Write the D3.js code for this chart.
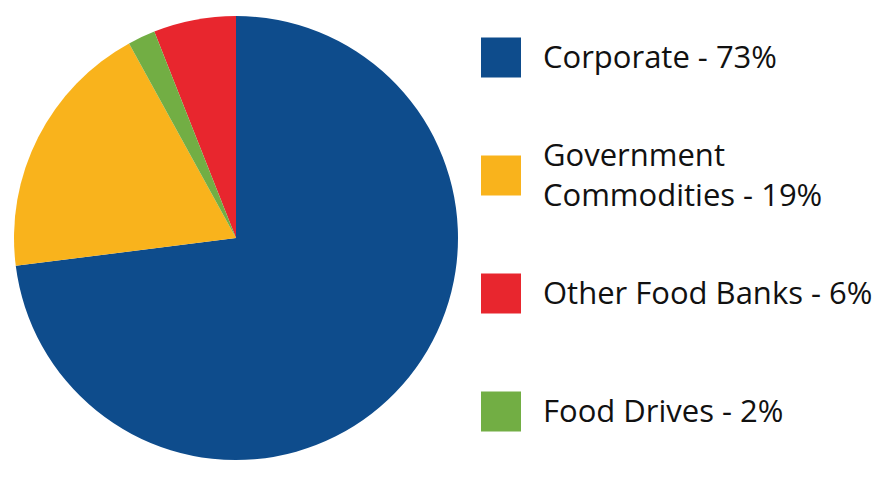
<!DOCTYPE html>
<html>
<head>
<meta charset="utf-8">
<script src="https://cdn.jsdelivr.net/npm/d3@7"></script>
<style>
  html, body { margin: 0; padding: 0; background: #fff; }
  svg { display: block; }
  text { font-family: "Open Sans", "Noto Sans", sans-serif; fill: #111; }
</style>
</head>
<body>
<svg id="chart" width="878" height="484"></svg>
<script>
// Data (legend order)
const categories = ["Corporate", "Government Commodities", "Other Food Banks", "Food Drives"];
const legendLines = [["Corporate - 73%"], ["Government", "Commodities - 19%"], ["Other Food Banks - 6%"], ["Food Drives - 2%"]];
const values = [73, 19, 6, 2];
const colors = ["#0e4c8c", "#f9b31c", "#e8262e", "#72ae44"];
// Clockwise drawing order of slices in the pie
const pieOrder = ["Corporate", "Government Commodities", "Food Drives", "Other Food Banks"];

const data = categories.map((c, i) => ({ name: c, value: values[i], color: colors[i], lines: legendLines[i] }));

const svg = d3.select("#chart");
const cx = 236, cy = 238, r = 222;

const pie = d3.pie()
  .value(d => d.value)
  .sort((a, b) => pieOrder.indexOf(a.name) - pieOrder.indexOf(b.name));
const arc = d3.arc().innerRadius(0).outerRadius(r);

svg.append("g")
  .attr("transform", `translate(${cx},${cy})`)
  .selectAll("path")
  .data(pie(data))
  .join("path")
  .attr("d", arc)
  .attr("fill", d => d.data.color);

// Legend
const legendY = d3.scalePoint().domain(categories).range([57.5, 411.5]);
const sq = 40, sqX = 481, textX = 543, lineGap = 40.5;

const items = svg.append("g").selectAll("g")
  .data(data)
  .join("g")
  .attr("transform", d => `translate(0,${legendY(d.name)})`);

items.append("rect")
  .attr("x", sqX).attr("y", -sq / 2)
  .attr("width", sq).attr("height", sq)
  .attr("fill", d => d.color);

items.each(function(d) {
  const g = d3.select(this);
  const n = d.lines.length;
  d.lines.forEach((ln, i) => {
    g.append("text")
      .attr("x", textX)
      .attr("y", 10.5 + (i - (n - 1) / 2) * lineGap)
      .attr("font-size", 31)
      .text(ln);
  });
});
</script>
</body>
</html>
